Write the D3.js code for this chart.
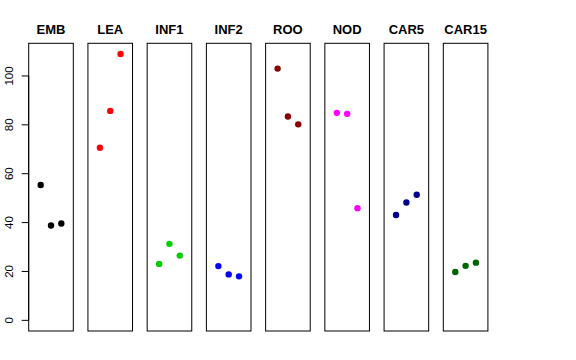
<!DOCTYPE html>
<html><head><meta charset="utf-8">
<script src="https://cdn.jsdelivr.net/npm/d3@7"></script>
<style>body{margin:0;background:#fff}svg{display:block}</style>
</head><body>
<script>
const categories = ["EMB","LEA","INF1","INF2","ROO","NOD","CAR5","CAR15"];
const colors = ["#000000","#FF0000","#00CD00","#0000FF","#8B0000","#FF00FF","#00008B","#006400"];
const values = [
  [55.4, 38.8, 39.6],
  [70.6, 85.7, 109.0],
  [23.1, 31.3, 26.5],
  [22.2, 18.8, 18.0],
  [103.0, 83.4, 80.2],
  [84.9, 84.5, 45.9],
  [43.1, 48.2, 51.4],
  [19.8, 22.3, 23.6]
];
const yTicks = [0,20,40,60,80,100];

const W = 576, H = 360;
const svg = d3.select("body").append("svg").attr("width",W).attr("height",H);
const pTop = 43.3, pBottom = 331, left0 = 28.7, step = 59.23, pw = 44.6;
const y = d3.scaleLinear().domain([-4.36, 113.36]).range([pBottom, pTop]);
const x = d3.scaleLinear().domain([-0.16, 4.16]).range([0, pw]);

categories.forEach((c,i)=>{
  const g = svg.append("g").attr("transform",`translate(${left0 + step*i},0)`);
  g.append("rect").attr("x",0).attr("y",pTop).attr("width",pw).attr("height",pBottom-pTop)
    .attr("fill","none").attr("stroke","#000").attr("stroke-width",1);
  g.selectAll("circle").data(values[i]).enter().append("circle")
    .attr("cx",(d,j)=>x(j+1)).attr("cy",d=>y(d)).attr("r",3.2).attr("fill",colors[i]);
  g.append("text").attr("x",pw/2).attr("y",34).attr("text-anchor","middle")
    .attr("font-family","Liberation Sans, Arial, sans-serif").attr("font-weight","bold")
    .attr("font-size",13).text(c);
});

const ax = svg.append("g").attr("transform",`translate(${left0},0)`);
ax.append("line").attr("x1",0).attr("x2",0).attr("y1",y(0)).attr("y2",y(100)).attr("stroke","#000");
yTicks.forEach(t=>{
  ax.append("line").attr("x1",-7).attr("x2",0).attr("y1",y(t)).attr("y2",y(t)).attr("stroke","#000");
  ax.append("text").attr("transform",`translate(-16,${y(t)}) rotate(-90)`)
    .attr("text-anchor","middle").attr("font-family","Liberation Sans, Arial, sans-serif")
    .attr("font-size",11.5).text(t);
});
</script>
</body></html>
